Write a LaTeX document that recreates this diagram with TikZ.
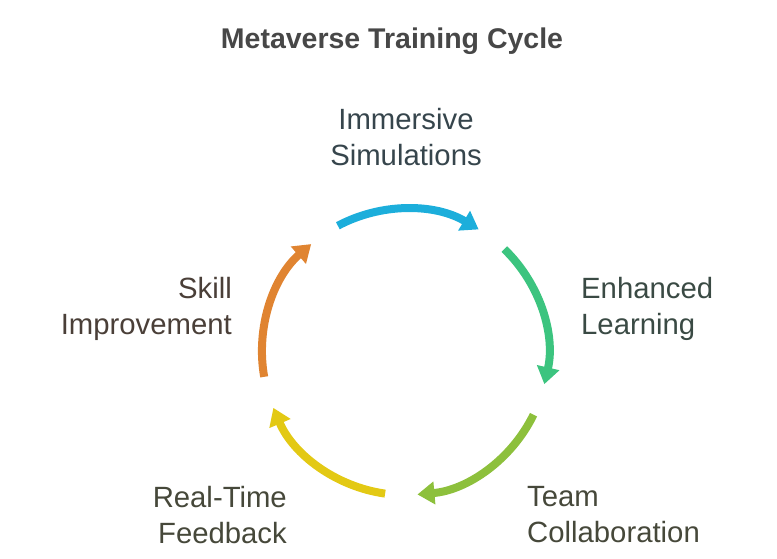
\documentclass[tikz,border=0pt]{standalone}
\usepackage{fontspec}
\setmainfont{Liberation Sans}
\usetikzlibrary{arrows.meta}
\definecolor{cblue}{HTML}{1CAEDB}
\definecolor{cgreen}{HTML}{3CC47F}
\definecolor{colive}{HTML}{8DC03C}
\definecolor{cyellow}{HTML}{E3C914}
\definecolor{corange}{HTML}{E08431}
\definecolor{tslate}{HTML}{36454C}
\definecolor{tgreen}{HTML}{3A4A44}
\definecolor{tolive}{HTML}{46483A}
\definecolor{tbrown}{HTML}{4A3F38}
\tikzset{
  cyc/.style={line width=8pt, -{Triangle[width=22pt,length=17pt]}},
  lbl/.style={font=\fontsize{29.3}{36}\selectfont, inner sep=0pt},
}
\begin{document}
\begin{tikzpicture}[x=1pt,y=-1pt]
\useasboundingbox (0,0) rectangle (777,559);
\coordinate (c) at (405,352);
\node[font=\bfseries\fontsize{28.5}{32}\selectfont, text=black!72, inner sep=0pt] (title) at (392,41) {Metaverse Training Cycle};
\draw[cyc, cblue]   (c) ++(-118:143) arc[start angle=-118, end angle=-59, radius=143];
\draw[cyc, cgreen]  (c) ++(-46:143) arc[start angle=-46, end angle=13, radius=143];
\draw[cyc, colive]  (c) ++(26:143) arc[start angle=26, end angle=85, radius=143];
\draw[cyc, cyellow] (c) ++(98:143) arc[start angle=98, end angle=157, radius=143];
\draw[cyc, corange] (c) ++(170:143) arc[start angle=170, end angle=229, radius=143];
\node[lbl, align=center, text=tslate] (imm) at (406,137) {Immersive\\Simulations};
\node[lbl, align=left, anchor=west, text=tgreen] (enh) at (581,309) {Enhanced\\Learning};
\node[lbl, align=left, anchor=west, text=tolive] (team) at (527,515) {Team\\Collaboration};
\node[lbl, align=right, anchor=east, text=tolive] (real) at (287,515) {Real-Time\\Feedback};
\node[lbl, align=right, anchor=east, text=tbrown] (skill) at (232,309) {Skill\\Improvement};
\end{tikzpicture}
\end{document}
